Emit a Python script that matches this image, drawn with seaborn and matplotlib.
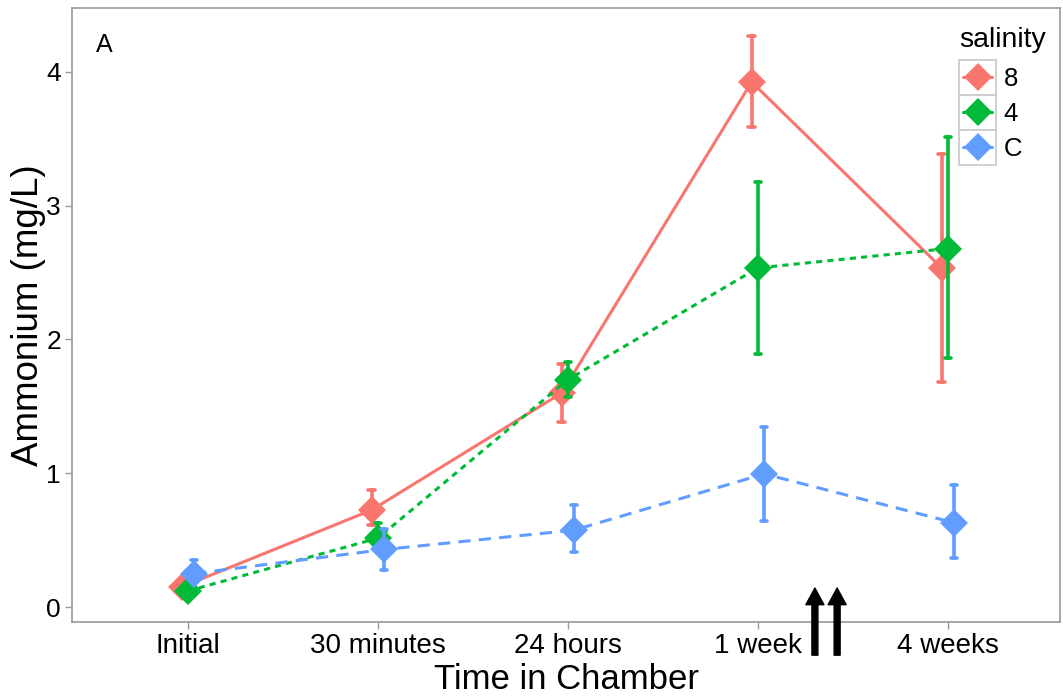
import numpy as np
import pandas as pd
import matplotlib
matplotlib.use("Agg")
import matplotlib.pyplot as plt
import seaborn as sns
from matplotlib.legend_handler import HandlerBase
from matplotlib.patches import Rectangle
from matplotlib.lines import Line2D

# ---- data ----
time_labels = ["Initial", "30 minutes", "24 hours", "1 week", "4 weeks"]
salinity_levels = ["8", "4", "C"]

mean_8 = [0.15, 0.725, 1.60, 3.925, 2.535]
lo_8 = [0.12, 0.61, 1.38, 3.59, 1.68]
hi_8 = [0.19, 0.875, 1.82, 4.27, 3.39]

mean_4 = [0.12, 0.515, 1.70, 2.535, 2.68]
lo_4 = [0.08, 0.45, 1.57, 1.89, 1.86]
hi_4 = [0.16, 0.63, 1.83, 3.18, 3.51]

mean_C = [0.25, 0.43, 0.575, 0.995, 0.63]
lo_C = [0.19, 0.28, 0.41, 0.64, 0.365]
hi_C = [0.35, 0.58, 0.76, 1.345, 0.91]

arrow_positions = [3.30, 3.417]   # x positions (category units) of the two arrows

colors = {"8": "#F8766D", "4": "#00BA38", "C": "#619CFF"}

series = {"8": (mean_8, lo_8, hi_8), "4": (mean_4, lo_4, hi_4), "C": (mean_C, lo_C, hi_C)}
rows = []
for s in salinity_levels:
    m, lo, hi = series[s]
    for t, mv, lv, hv in zip(time_labels, m, lo, hi):
        for v in (lv, mv, hv):
            rows.append({"time": t, "salinity": s, "ammonium": v})
df = pd.DataFrame(rows)

# ---- style ----
sns.set_theme(style="white")
plt.rcParams["font.family"] = ["Liberation Sans", "DejaVu Sans"]
plt.rcParams["text.color"] = "black"

fig = plt.figure(figsize=(10.63, 6.96), dpi=100)
ax = fig.add_axes([72 / 1063, 74 / 696, 988 / 1063, 614 / 696])

sns.pointplot(
    data=df, x="time", y="ammonium", hue="salinity",
    order=time_labels, hue_order=salinity_levels,
    palette=colors, estimator=np.median,
    errorbar=lambda v: (v.min(), v.max()),
    markers="D", linestyles=["-", (0, (2, 1.7)), (0, (4, 2.7))],
    dodge=0.066, capsize=0.035,
    err_kws={"linewidth": 2.6, "linestyle": "-"},
    linewidth=2.2, markersize=14, markeredgewidth=0,
    ax=ax,
)

ax.set_xlim(-0.61, 4.59)
ax.set_ylim(-0.112, 4.478)
ax.set_yticks([0, 1, 2, 3, 4])

for sp in ax.spines.values():
    sp.set_color("#9a9a9a")
    sp.set_linewidth(1.2)
    sp.set_visible(True)

ax.tick_params(axis="both", which="major", direction="out", length=5, width=1,
               color="#9a9a9a", labelcolor="black", bottom=True, left=True)
ax.tick_params(axis="x", labelsize=20, pad=3)
ax.tick_params(axis="y", labelsize=19, pad=3)

ax.set_xlabel("Time in Chamber", fontsize=25, color="black", labelpad=3)
ax.set_ylabel("Ammonium (mg/L)", fontsize=26.5, color="black", labelpad=0)

ax.text(0.024, 0.928, "A", transform=ax.transAxes, fontsize=18, color="black",
        ha="left", va="baseline")

# arrows
for xa in arrow_positions:
    ax.annotate("", xy=(xa, 0.142), xytext=(xa, -0.36),
                arrowprops=dict(width=4.3, headwidth=13, headlength=12,
                                facecolor="black", edgecolor="black", shrink=0),
                annotation_clip=False)

# legend with boxed keys
class BoxedKey(HandlerBase):
    def create_artists(self, legend, orig_handle, xdescent, ydescent,
                       width, height, fontsize, trans):
        x0, y0 = -xdescent, -ydescent
        rect = Rectangle((x0, y0), width, height, facecolor="white",
                         edgecolor="#cccccc", lw=1.3, transform=trans)
        cy = y0 + height / 2
        c = orig_handle.get_color()
        line = Line2D([x0 + 0.1 * width, x0 + 0.9 * width], [cy, cy], color=c,
                      lw=2.2, transform=trans)
        mk = Line2D([x0 + width / 2], [cy], marker="D", markersize=14, color=c,
                    mew=0, ls="none", transform=trans)
        return [rect, line, mk]

if ax.get_legend() is not None:
    ax.get_legend().remove()
handles = [Line2D([], [], color=colors[s]) for s in salinity_levels]
leg = fig.legend(handles, salinity_levels, title="salinity",
                 handler_map={Line2D: BoxedKey()},
                 loc="upper left", bbox_to_anchor=(959 / 1063, 1 - 27 / 696),
                 frameon=False, fontsize=18.5, title_fontsize=20.5,
                 handlelength=1.44, handleheight=1.72, labelspacing=0,
                 handletextpad=0.3, borderpad=0, borderaxespad=0,
                 alignment="left")
leg._legend_box.sep = 5
leg.get_title().set_color("black")
for t in leg.get_texts():
    t.set_color("black")

fig.savefig("out.png", dpi=100)
